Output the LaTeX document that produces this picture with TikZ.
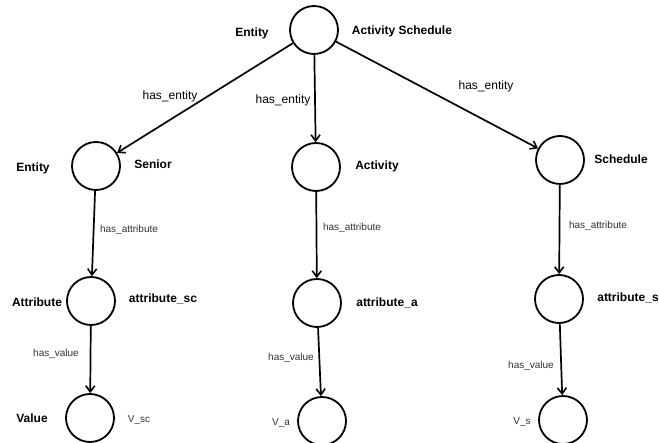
\documentclass[tikz,border=0pt]{standalone}
\usepackage{fontspec}
\setmainfont{Liberation Sans}
\usetikzlibrary{arrows.meta}
\begin{document}
\begin{tikzpicture}[x=1pt,y=-1pt,
  ent/.style={circle,draw,line width=1.8pt,minimum size=48pt,inner sep=0pt},
  big/.style={font=\fontsize{12}{14}\selectfont\bfseries,inner sep=0pt},
  lab/.style={font=\fontsize{10}{12}\selectfont,text=black!80,inner sep=0pt},
  elab/.style={font=\fontsize{12}{14}\selectfont,inner sep=0pt},
  rel/.style={line width=1.7pt,-{Straight Barb[length=6pt,width=9pt,line width=1.6pt]}}]
\useasboundingbox (0,0) rectangle (659,443);
\fill[white] (0,0) rectangle (659,443);
% nodes
\node[ent] (top) at (314,30) {};
\node[ent] (sen) at (96,166) {};
\node[ent] (act) at (316,167) {};
\node[ent] (sch) at (560,160) {};
\node[ent] (asc) at (91,301) {};
\node[ent] (aa) at (317,303) {};
\node[ent] (as) at (559,299) {};
\node[ent] (vsc) at (90,418) {};
\node[ent] (va) at (322,421) {};
\node[ent] (vs) at (563,420) {};
% labels
\node[big] (t1) at (252,33) {Entity};
\node[big] (t2) at (402,31) {Activity Schedule};
\node[big] (t3) at (33,168) {Entity};
\node[big] (t4) at (153,164) {Senior};
\node[big] (t5) at (377,166) {Activity};
\node[big] (t6) at (621,159) {Schedule};
\node[big] (t7) at (37,302) {Attribute};
\node[big] (t8) at (163,299) {attribute\_sc};
\node[big] (t9) at (387,303) {attribute\_a};
\node[big] (t10) at (628,298) {attribute\_s};
\node[big] (t11) at (32,418) {Value};
\node[lab] (t12) at (139,420) {V\_sc};
\node[lab] (t13) at (281,423) {V\_a};
\node[lab] (t14) at (522,422) {V\_s};
% connectors
\draw[rel] (top) -- (sen);
\draw[rel] (top) -- (act);
\draw[rel] (top) -- (sch);
\draw[rel] (sen) -- (asc);
\draw[rel] (act) -- (aa);
\draw[rel] (sch) -- (as);
\draw[rel] (asc) -- (vsc);
\draw[rel] (aa) -- (va);
\draw[rel] (as) -- (vs);
% connector labels
\node[elab] (l1) at (170,96) {has\_entity};
\node[elab] (l2) at (283,100) {has\_entity};
\node[elab] (l3) at (486,86) {has\_entity};
\node[lab] (l4) at (129,230) {has\_attribute};
\node[lab] (l5) at (352,228) {has\_attribute};
\node[lab] (l6) at (598,226) {has\_attribute};
\node[lab] (l7) at (56,354) {has\_value};
\node[lab] (l8) at (291,358) {has\_value};
\node[lab] (l9) at (531,366) {has\_value};
\end{tikzpicture}
\end{document}
